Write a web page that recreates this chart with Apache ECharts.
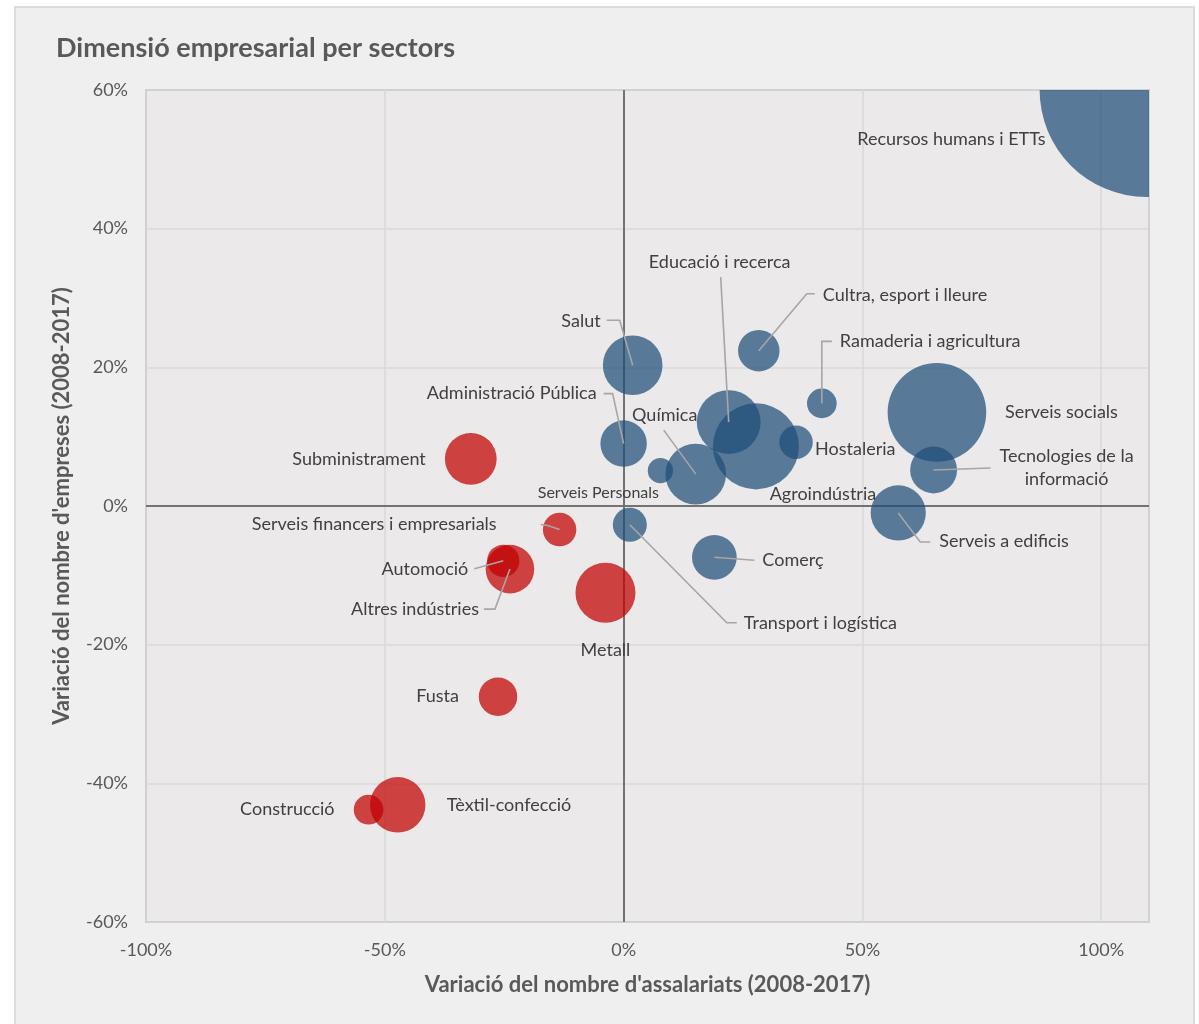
<!DOCTYPE html>
<html>
<head>
<meta charset="utf-8">
<title>Dimensió empresarial per sectors</title>
<script src="https://cdn.jsdelivr.net/npm/echarts@6/dist/echarts.min.js"></script>
<style>
  html, body { margin: 0; padding: 0; background: #ffffff; }
  #card {
    position: absolute; left: 14px; top: 6px; width: 1181px; height: 1030px;
    background: #efefef; border: 2px solid #dcdcdc; box-sizing: border-box;
  }
  #chart { position: absolute; left: 0; top: 0; width: 1199px; height: 1024px; }
</style>
</head>
<body>
<div id="card"></div>
<div id="chart"></div>
<script>
// Sectors, with the change in employees (x, %), change in firms (y, %) and bubble size
const sectors = [
  'Recursos humans i ETTs', 'Educació i recerca', 'Cultra, esport i lleure', 'Ramaderia i agricultura',
  'Salut', 'Administració Pública', 'Química', 'Hostaleria', 'Agroindústria', 'Serveis socials',
  'Tecnologies de la\ninformació', 'Serveis a edificis', 'Serveis Personals', 'Subministrament',
  'Serveis financers i empresarials', 'Automoció', 'Altres indústries', 'Metall',
  'Transport i logística', 'Comerç', 'Fusta', 'Tèxtil-confecció', 'Construcció'
];
const varAssalariats = [
  109.5, 22.0, 28.3, 41.5,
  1.9, 0.0, 15.1, 36.1, 27.7, 65.6,
  64.9, 57.5, 7.7, -32.0,
  -13.4, -25.2, -23.8, -3.8,
  1.3, 19.0, -26.3, -47.3, -53.4
];
const varEmpreses = [
  60.0, 12.1, 22.4, 14.8,
  20.3, 9.0, 4.6, 9.2, 8.6, 13.5,
  5.2, -1.0, 5.1, 6.8,
  -3.4, -7.9, -9.1, -12.5,
  -2.7, -7.4, -27.5, -43.1, -43.8
];
const midaBombolla = [
  114.5, 10.2, 4.3, 2.2,
  8.9, 5.4, 9.2, 2.8, 18.5, 24.3,
  5.5, 7.6, 1.6, 6.7,
  2.8, 2.6, 5.9, 9.0,
  2.9, 5.0, 3.7, 7.7, 2.2
];
const xTicks = [-100, -50, 0, 50, 100];
const yTicks = [-60, -40, -20, 0, 20, 40, 60];

// Label placement: offset from the bubble centre (px), alignment, leader path
const labelLayout = [
  { dx: -101, dy: 49, align: 'right' },
  { dx: -9, dy: -160, align: 'center', leader: [[0, 0], [-8, -145]] },
  { dx: 64, dy: -56, align: 'left', leader: [[0, 0], [48, -57], [56, -57]] },
  { dx: 18, dy: -62, align: 'left', leader: [[0, 0], [0, -62], [10, -62]] },
  { dx: -32, dy: -44, align: 'right', leader: [[0, 0], [-13, -45], [-26, -45]] },
  { dx: -27, dy: -50, align: 'right', leader: [[0, 0], [-11, -50], [-20, -50]] },
  { dx: -31, dy: -59, align: 'center', leader: [[0, 0], [-32, -44]] },
  { dx: 19, dy: 7, align: 'left' },
  { dx: 67, dy: 48, align: 'center' },
  { dx: 68, dy: 0, align: 'left' },
  { dx: 133, dy: -2, align: 'center', leader: [[0, 0], [57, -2]] },
  { dx: 41, dy: 28, align: 'left', leader: [[0, 0], [22, 29], [32, 29]] },
  { dx: -62, dy: 22, align: 'center', small: true },
  { dx: -45, dy: 0, align: 'right' },
  { dx: -63, dy: -5, align: 'right', leader: [[0, 0], [-12, -4], [-19, -5]] },
  { dx: -35, dy: 8, align: 'right', leader: [[0, 0], [-29, 8]] },
  { dx: -31, dy: 40, align: 'right', leader: [[0, 0], [-15, 40], [-26, 40]] },
  { dx: 0, dy: 58, align: 'center' },
  { dx: 114, dy: 98, align: 'left', leader: [[0, 0], [97, 98], [107, 98]] },
  { dx: 48, dy: 3, align: 'left', leader: [[0, 0], [40, 3]] },
  { dx: -39, dy: 0, align: 'right' },
  { dx: 49, dy: 0, align: 'left' },
  { dx: -34, dy: 0, align: 'right' }
];

const FONT = 'Lato, "Open Sans", sans-serif';
const BLUE = 'rgba(31, 78, 121, 0.72)';
const RED = 'rgba(192, 0, 0, 0.72)';
const MAX_R = 107;
const maxSize = Math.max.apply(null, midaBombolla);

const points = sectors.map((s, i) => [varAssalariats[i], varEmpreses[i], midaBombolla[i], i]);

const chart = echarts.init(document.getElementById('chart'), null, { renderer: 'canvas' });

chart.setOption({
  backgroundColor: 'transparent',
  animation: false,
  title: {
    text: 'Dimensió empresarial per sectors',
    left: 51, top: 30,
    textStyle: { fontFamily: FONT, fontSize: 27, fontWeight: 'bold', color: '#595959' }
  },
  grid: {
    left: 146, top: 90, right: 50, bottom: 102,
    show: true, backgroundColor: '#ebe9ea', borderColor: '#a9a9a9', borderWidth: 1.5
  },
  xAxis: {
    type: 'value', min: -100, max: 110, interval: 50,
    name: "Variació del nombre d'assalariats (2008-2017)",
    nameLocation: 'middle', nameGap: 52,
    nameTextStyle: { fontFamily: FONT, fontSize: 22, fontWeight: 'bold', color: '#595959' },
    axisLine: { show: false }, axisTick: { show: false },
    axisLabel: {
      margin: 19, fontFamily: FONT, fontSize: 18, color: '#595959',
      formatter: v => xTicks.indexOf(v) >= 0 ? v + '%' : ''
    },
    splitLine: { show: true, lineStyle: { color: '#d9d9d9', width: 1.5 } }
  },
  yAxis: {
    type: 'value', min: -60, max: 60, interval: 20,
    name: "Variació del nombre d'empreses (2008-2017)",
    nameLocation: 'middle', nameGap: 73, nameRotate: 90,
    nameTextStyle: { fontFamily: FONT, fontSize: 22, fontWeight: 'bold', color: '#595959' },
    axisLine: { show: false }, axisTick: { show: false },
    axisLabel: {
      margin: 18, fontFamily: FONT, fontSize: 18, color: '#595959',
      formatter: v => yTicks.indexOf(v) >= 0 ? v + '%' : ''
    },
    splitLine: { show: true, lineStyle: { color: '#d9d9d9', width: 1.5 } }
  },
  series: [
    {
      // bubbles, clipped to the plot area
      type: 'custom',
      name: 'sectors',
      clip: true,
      z: 3,
      data: points,
      encode: { x: 0, y: 1 },
      renderItem: (params, api) => {
        const c = api.coord([api.value(0), api.value(1)]);
        const r = MAX_R * Math.sqrt(api.value(2) / maxSize);
        return {
          type: 'circle',
          shape: { cx: c[0], cy: c[1], r: r },
          style: { fill: api.value(0) < 0 ? RED : BLUE }
        };
      },
      markLine: {
        silent: true, symbol: 'none', z: 2,
        label: { show: false },
        lineStyle: { color: '#737373', width: 2, type: 'solid' },
        data: [{ xAxis: 0 }, { yAxis: 0 }]
      }
    },
    {
      // sector names with leader lines
      type: 'custom',
      name: 'labels',
      clip: false,
      z: 5,
      data: points,
      encode: { x: 0, y: 1 },
      renderItem: (params, api) => {
        const i = api.value(3);
        const c = api.coord([api.value(0), api.value(1)]);
        const L = labelLayout[i];
        const children = [];
        if (L.leader) {
          children.push({
            type: 'polyline',
            shape: { points: L.leader.map(p => [c[0] + p[0], c[1] + p[1]]) },
            style: { stroke: '#a6a6a6', lineWidth: 1.6, fill: null }
          });
        }
        children.push({
          type: 'text',
          x: c[0] + L.dx, y: c[1] + L.dy,
          style: {
            text: sectors[i],
            fill: '#404040',
            font: (L.small ? '16px ' : '18px ') + FONT,
            align: L.align, verticalAlign: 'middle',
            lineHeight: 23
          }
        });
        return { type: 'group', children: children };
      }
    }
  ]
});
</script>
</body>
</html>
